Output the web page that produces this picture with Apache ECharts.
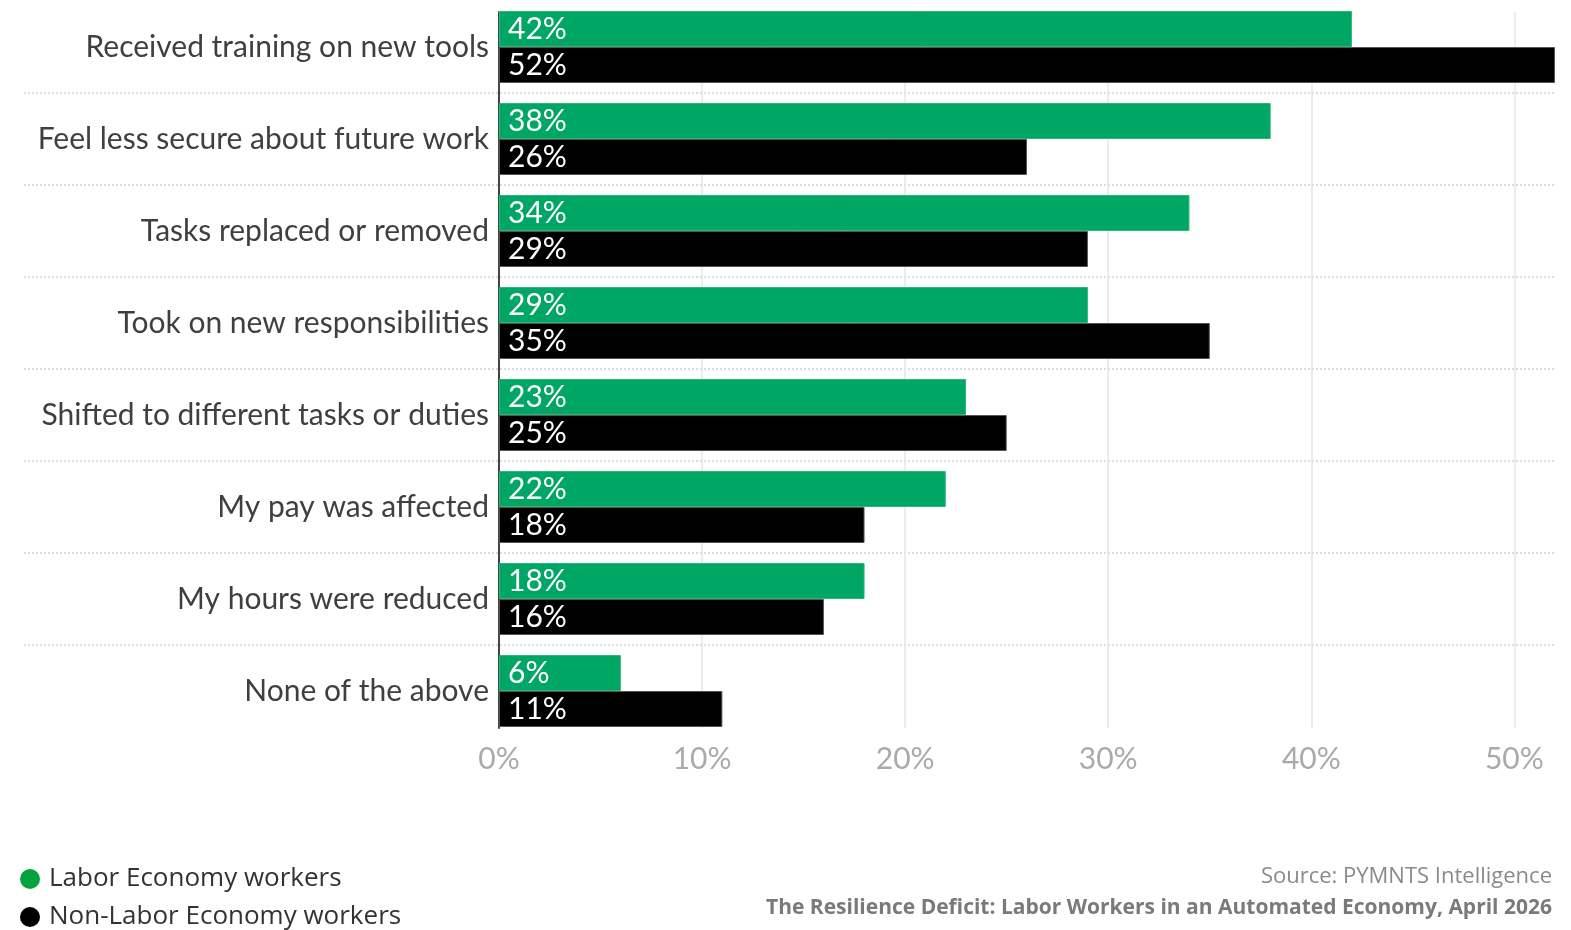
<!DOCTYPE html>
<html>
<head>
<meta charset="utf-8">
<title>The Resilience Deficit</title>
<script src="https://cdn.jsdelivr.net/npm/echarts@6/dist/echarts.min.js"></script>
<style>
  html, body { margin: 0; padding: 0; background: #ffffff; }
  #chart { width: 1571px; height: 930px; }
</style>
</head>
<body>
<div id="chart"></div>
<script>
// Survey responses, top to bottom
const categories = [
  'Received training on new tools',
  'Feel less secure about future work',
  'Tasks replaced or removed',
  'Took on new responsibilities',
  'Shifted to different tasks or duties',
  'My pay was affected',
  'My hours were reduced',
  'None of the above'
];
const seriesNames = ['Labor Economy workers', 'Non-Labor Economy workers'];
const laborValues = [42, 38, 34, 29, 23, 22, 18, 6];
const nonLaborValues = [52, 26, 29, 35, 25, 18, 16, 11];
const xMax = 52;
const xInterval = 10;
const sourceText = 'Source: PYMNTS Intelligence';
const reportText = 'The Resilience Deficit: Labor Workers in an Automated Economy, April 2026';

const GREEN = '#00a664';
const LEGEND_GREEN = '#05a340';
const BLACK = '#000000';
const LABEL_FONT = 'Lato, "Open Sans", sans-serif';
const FOOT_FONT = '"Open Sans", "Noto Sans", sans-serif';

const chart = echarts.init(document.getElementById('chart'), null, { renderer: 'canvas' });

// Vertical grid colours: hide the extra line drawn at the axis max
const tickCount = Math.floor(xMax / xInterval) + 2;
const vLineColors = [];
for (let i = 0; i < tickCount; i++) vLineColors.push(i === tickCount - 1 ? 'rgba(0,0,0,0)' : '#e6e6e6');

// Dotted row separators: only between rows, not on the outer edges
const hLineColors = [];
for (let i = 0; i <= categories.length; i++) {
  hLineColors.push(i === 0 || i === categories.length ? 'rgba(0,0,0,0)' : '#cfcfcf');
}

const barLabel = {
  show: true,
  position: 'insideLeft',
  distance: 9,
  color: '#ffffff',
  fontFamily: LABEL_FONT,
  fontSize: 30,
  formatter: p => p.value + '%'
};

const legendText = { fontFamily: FOOT_FONT, fontSize: 26, color: '#333333', padding: [0, 0, 0, 4] };
const legendBase = {
  orient: 'vertical',
  left: 15,
  icon: 'circle',
  itemWidth: 20,
  itemHeight: 20,
  textStyle: legendText
};

chart.setOption({
  animation: false,
  backgroundColor: '#ffffff',
  color: [GREEN, BLACK],
  legend: [
    Object.assign({}, legendBase, {
      data: [{ name: seriesNames[0], itemStyle: { color: LEGEND_GREEN, borderWidth: 0 } }],
      top: 861
    }),
    Object.assign({}, legendBase, {
      data: [{ name: seriesNames[1], itemStyle: { color: BLACK, borderWidth: 0 } }],
      top: 899
    })
  ],
  graphic: [
    {
      type: 'text',
      right: 19,
      top: 866,
      style: { text: sourceText, fontFamily: FOOT_FONT, fontSize: 22, fill: '#8a8a8a', align: 'right' }
    },
    {
      type: 'text',
      right: 19,
      top: 898,
      style: { text: reportText, fontFamily: FOOT_FONT, fontSize: 21, fontWeight: 'bold', fill: '#7a7a7a', align: 'right' }
    }
  ],
  grid: [
    // value scale, vertical grid lines and baseline
    { left: 499, right: 16, top: 12, height: 716 },
    // bars and category labels
    { left: 499, right: 16, top: 1, height: 736 },
    // dotted row separators spanning the full width
    { left: 24, right: 16, top: 1, height: 736 }
  ],
  xAxis: [
    {
      gridIndex: 0,
      type: 'value',
      min: 0,
      max: xMax,
      interval: xInterval,
      axisLine: { show: false },
      axisTick: { show: false },
      splitLine: { show: true, lineStyle: { color: vLineColors, width: 1.5 } },
      axisLabel: {
        show: true,
        showMaxLabel: false,
        margin: 16,
        color: '#aaaaaa',
        fontFamily: LABEL_FONT,
        fontSize: 30,
        formatter: v => v + '%'
      }
    },
    { gridIndex: 1, type: 'value', min: 0, max: xMax, show: false },
    { gridIndex: 2, type: 'value', min: 0, max: 1, show: false }
  ],
  yAxis: [
    {
      gridIndex: 0,
      type: 'value',
      min: 0,
      max: 1,
      axisLine: { show: true, onZero: false, lineStyle: { color: '#444444', width: 2 } },
      axisTick: { show: false },
      axisLabel: { show: false },
      splitLine: { show: false }
    },
    {
      gridIndex: 1,
      type: 'category',
      data: categories,
      inverse: true,
      axisLine: { show: false },
      axisTick: { show: false },
      splitLine: { show: false },
      axisLabel: {
        margin: 10,
        color: '#3f3f3f',
        fontFamily: LABEL_FONT,
        fontSize: 30
      }
    },
    {
      gridIndex: 2,
      type: 'category',
      data: categories,
      inverse: true,
      axisLine: { show: false },
      axisTick: { show: false },
      axisLabel: { show: false },
      splitLine: {
        show: true,
        interval: 0,
        lineStyle: { color: hLineColors, width: 1.5, type: [2, 2] }
      }
    }
  ],
  series: [
    {
      name: seriesNames[0],
      type: 'bar',
      xAxisIndex: 1,
      yAxisIndex: 1,
      data: laborValues,
      barWidth: 36,
      barGap: '0%',
      itemStyle: { color: GREEN, borderColor: '#2bb77c', borderWidth: 1 },
      label: barLabel
    },
    {
      name: seriesNames[1],
      type: 'bar',
      xAxisIndex: 1,
      yAxisIndex: 1,
      data: nonLaborValues,
      barWidth: 36,
      barGap: '0%',
      itemStyle: { color: BLACK, borderColor: '#555555', borderWidth: 1 },
      label: barLabel
    }
  ]
});
</script>
</body>
</html>
